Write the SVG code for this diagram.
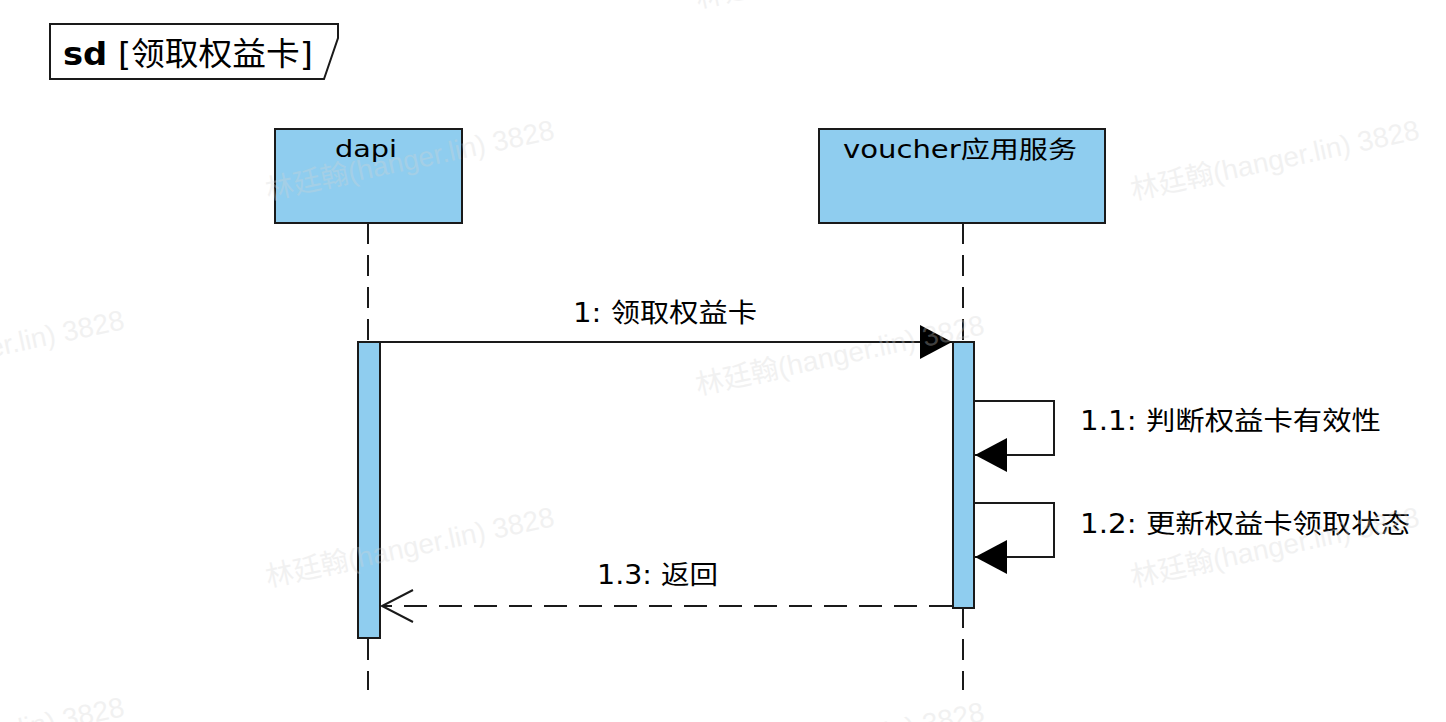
<svg xmlns="http://www.w3.org/2000/svg" width="1446" height="722" viewBox="0 0 1446 722">
<style>
.lbl{font-family:"DejaVu Sans","Noto Sans CJK SC",sans-serif;font-size:26px;fill:#000}
.hdr{font-family:"DejaVu Sans","Noto Sans CJK SC",sans-serif;font-size:24px;fill:#000}
.box{fill:#8fcdef;stroke:#1a1a1a;stroke-width:2}
.act{fill:#8fcdef;stroke:#1a1a1a;stroke-width:2}
.life{stroke:#1a1a1a;stroke-width:2;stroke-dasharray:21 11;fill:none}
.msg{stroke:#1a1a1a;stroke-width:2;fill:none}
.wm{font-family:"Liberation Sans","Noto Sans CJK SC",sans-serif;font-size:28px;fill:#d4d4d4;opacity:0.3}
</style>
<defs>
<marker id="filled" markerUnits="userSpaceOnUse" markerWidth="34" markerHeight="36" refX="32" refY="17" orient="auto" overflow="visible">
<path d="M0,0 L32,17 L0,34 Z" fill="#000"/>
</marker>
<marker id="open" markerUnits="userSpaceOnUse" markerWidth="34" markerHeight="36" refX="31" refY="16" orient="auto" overflow="visible">
<path d="M0,0 L31,16 L0,32" fill="none" stroke="#1a1a1a" stroke-width="2"/>
</marker>
</defs>
<rect width="1446" height="722" fill="#ffffff"/>

<g id="frame">
<polygon points="50,24 338,24 338,38 324,79 50,79" fill="#fff" stroke="#1a1a1a" stroke-width="2"/>
<text x="63" y="65" textLength="250" lengthAdjust="spacingAndGlyphs" style="font-family:'DejaVu Sans','Noto Sans CJK SC',sans-serif;font-size:32px;fill:#000"><tspan font-weight="bold">sd</tspan> [领取权益卡]</text>
</g>

<g id="lifeline-dapi">
<line class="life" x1="368" y1="223" x2="368" y2="690"/>
<rect class="box" x="275" y="129" width="187" height="94"/>
<text class="hdr" x="335" y="157" textLength="62" lengthAdjust="spacingAndGlyphs" style="font-size:23px">dapi</text>
<rect class="act" x="358" y="342" width="22" height="296"/>
</g>

<g id="lifeline-voucher">
<line class="life" x1="963" y1="223" x2="963" y2="690"/>
<rect class="box" x="819" y="129" width="286" height="94"/>
<text class="hdr" x="843" y="158" textLength="234" lengthAdjust="spacingAndGlyphs">voucher应用服务</text>
<rect class="act" x="953" y="342" width="21" height="266"/>
</g>

<g id="connectors">
<line class="msg" x1="381" y1="342" x2="952" y2="342" marker-end="url(#filled)"/>
<path class="msg" d="M975,401 H1054 V455 H975" marker-end="url(#filled)"/>
<path class="msg" d="M975,503 H1054 V557 H975" marker-end="url(#filled)"/>
<line class="msg" x1="952" y1="606" x2="382" y2="606" stroke-dasharray="23 12" marker-end="url(#open)"/>
</g>

<g id="labels">
<text class="lbl" x="573" y="322" textLength="184" lengthAdjust="spacingAndGlyphs">1: 领取权益卡</text>
<text class="lbl" x="1080" y="430" textLength="301" lengthAdjust="spacingAndGlyphs">1.1: 判断权益卡有效性</text>
<text class="lbl" x="1080" y="533" textLength="330" lengthAdjust="spacingAndGlyphs">1.2: 更新权益卡领取状态</text>
<text class="lbl" x="597" y="584" textLength="121" lengthAdjust="spacingAndGlyphs">1.3: 返回</text>
</g>

<g id="watermarks">
<text class="wm" transform="translate(268,200) rotate(-12)">林廷翰(hanger.lin) 3828</text>
<text class="wm" transform="translate(268,587) rotate(-12)">林廷翰(hanger.lin) 3828</text>
<text class="wm" transform="translate(698,8) rotate(-12)">林廷翰(hanger.lin) 3828</text>
<text class="wm" transform="translate(698,395) rotate(-12)">林廷翰(hanger.lin) 3828</text>
<text class="wm" transform="translate(698,782) rotate(-12)">林廷翰(hanger.lin) 3828</text>
<text class="wm" transform="translate(1133,200) rotate(-12)">林廷翰(hanger.lin) 3828</text>
<text class="wm" transform="translate(1133,587) rotate(-12)">林廷翰(hanger.lin) 3828</text>
<text class="wm" transform="translate(-162,390) rotate(-12)">林廷翰(hanger.lin) 3828</text>
<text class="wm" transform="translate(-162,777) rotate(-12)">林廷翰(hanger.lin) 3828</text>
</g>
</svg>
